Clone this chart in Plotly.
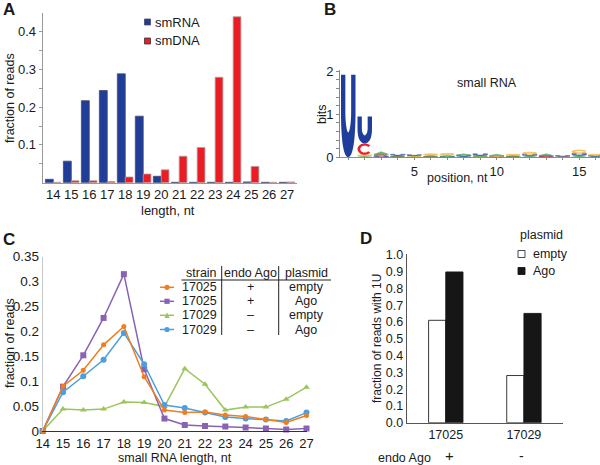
import math
import plotly.graph_objects as go

# ---------------- DATA ----------------
# Panel A
lengths_a = list(range(14, 28))
smRNA = [0.009, 0.057, 0.217, 0.244, 0.288, 0.176, 0.017, 0.001, 0.001, 0.001, 0.001, 0.002, 0.001, 0.001]
smDNA = [0.001, 0.005, 0.005, 0.003, 0.015, 0.023, 0.034, 0.070, 0.093, 0.279, 0.439, 0.043, 0.001, 0.002]

# Panel B: sequence logo, stacks bottom -> top (letter, bits)
logo_positions = list(range(1, 17))
logo_stacks = [
    [("U", 1.92)],
    [("A", 0.03), ("G", 0.03), ("C", 0.26), ("U", 0.63)],
    [("U", 0.03), ("C", 0.04), ("A", 0.06)],
    [("C", 0.02), ("A", 0.02), ("U", 0.03)],
    [("A", 0.02), ("G", 0.02), ("U", 0.02)],
    [("C", 0.02), ("A", 0.03), ("G", 0.03)],
    [("U", 0.02), ("A", 0.03), ("G", 0.04)],
    [("A", 0.02), ("U", 0.03), ("A", 0.03)],
    [("G", 0.02), ("A", 0.02), ("U", 0.04)],
    [("U", 0.02), ("G", 0.02), ("A", 0.03)],
    [("C", 0.02), ("A", 0.02), ("G", 0.03)],
    [("A", 0.03), ("U", 0.04), ("G", 0.05)],
    [("U", 0.02), ("C", 0.02), ("A", 0.04)],
    [("G", 0.02), ("U", 0.02)],
    [("A", 0.04), ("U", 0.05), ("G", 0.08)],
    [("A", 0.02), ("U", 0.02), ("G", 0.03)],
]

# Panel C
lengths_c = list(range(14, 28))
c_17025_empty = [0, 0.090, 0.122, 0.173, 0.210, 0.109, 0.042, 0.037, 0.038, 0.032, 0.029, 0.023, 0.017, 0.031]
c_17025_ago = [0, 0.089, 0.152, 0.227, 0.315, 0.124, 0.025, 0.012, 0.010, 0.009, 0.007, 0.005, 0.003, 0.005]
c_17029_empty = [0, 0.044, 0.042, 0.044, 0.058, 0.057, 0.049, 0.125, 0.094, 0.042, 0.048, 0.048, 0.064, 0.088]
c_17029_ago = [0, 0.078, 0.110, 0.143, 0.197, 0.134, 0.052, 0.046, 0.037, 0.028, 0.025, 0.023, 0.020, 0.037]
table_strain = ["17025", "17025", "17029", "17029"]
table_endo = ["+", "+", "\u2013", "\u2013"]
table_plasmid = ["empty", "Ago", "empty", "Ago"]

# Panel D
strains_d = ["17025", "17029"]
endo_d = ["+", "-"]
frac1U_empty = [0.61, 0.281]
frac1U_ago = [0.898, 0.651]

# ---------------- STYLE ----------------
FONT = "Liberation Sans, Arial, sans-serif"
W, H = 600, 465
def PX(x):
    return x / W
def PY(y):
    return 1 - y / H

LOGO_COL = {"U": "#1f3d9a", "C": "#e8202a", "G": "#f2a51c", "A": "#2f9e4a"}
C_COL = ["#f07d1e", "#8a62b3", "#9cc55c", "#4a9fe0"]
C_SYM = ["circle", "square", "triangle-up", "circle"]
C_SIZE = [5, 6, 6, 6]

fig = go.Figure()

# ---------------- PANEL A ----------------
fig.add_trace(go.Bar(x=lengths_a, y=smRNA, xaxis="x", yaxis="y", width=0.44, offset=-0.44,
                     marker=dict(color="#1f3d99", line=dict(color="#4a4a66", width=0.8)),
                     showlegend=False))
fig.add_trace(go.Bar(x=lengths_a, y=smDNA, xaxis="x", yaxis="y", width=0.43, offset=0.0,
                     marker=dict(color="#ec1c24", line=dict(color="#a8a0a0", width=0.8)),
                     showlegend=False))

# ---------------- PANEL B (logo) ----------------
shapes = []

def glyph_U(xc, y0, y1, w=0.88):
    xl, xr = xc - w / 2, xc + w / 2
    h = y1 - y0
    t = w * 0.3
    ym = y0 + 0.55 * h
    yb = y0 + 0.3 * h
    return (f"M {xl},{y1} L {xl},{ym} "
            f"C {xl},{y0 + 0.18*h} {xc - 0.3*w},{y0} {xc},{y0} "
            f"C {xc + 0.3*w},{y0} {xr},{y0 + 0.18*h} {xr},{ym} "
            f"L {xr},{y1} L {xr - t},{y1} L {xr - t},{ym} "
            f"C {xr - t},{yb + 0.1*h} {xc + 0.08*w},{yb} {xc},{yb} "
            f"C {xc - 0.08*w},{yb} {xl + t},{yb + 0.1*h} {xl + t},{ym} "
            f"L {xl + t},{y1} Z")

def glyph_ring(xc, y0, y1, w=0.88, a0=40, a1=320):
    a, b = w / 2, (y1 - y0) / 2
    yc = (y0 + y1) / 2
    k = 0.62
    n = 24
    pts = []
    for i in range(n + 1):
        ang = math.radians(a0 + (a1 - a0) * i / n)
        pts.append((xc + a * math.cos(ang), yc + b * math.sin(ang)))
    for i in range(n, -1, -1):
        ang = math.radians(a0 + (a1 - a0) * i / n)
        pts.append((xc + a * k * math.cos(ang), yc + b * k * math.sin(ang)))
    return "M " + " L ".join(f"{x},{y}" for x, y in pts) + " Z"

def glyph_A(xc, y0, y1, w=0.88):
    xl, xr = xc - w / 2, xc + w / 2
    return f"M {xl},{y0} L {xc},{y1} L {xr},{y0} Z"

for pos, stack in zip(logo_positions, logo_stacks):
    base = 0.0
    for letter, hgt in stack:
        y0, y1 = base, base + hgt
        if letter == "U":
            path = glyph_U(pos, y0, y1)
        elif letter == "C":
            path = glyph_ring(pos, y0, y1)
        elif letter == "G":
            path = glyph_ring(pos, y0, y1, a0=20, a1=340)
        else:
            path = glyph_A(pos, y0, y1)
        small = hgt < 0.1
        shapes.append(dict(type="path", path=path, xref="x2", yref="y2",
                           fillcolor=LOGO_COL[letter],
                           line=dict(color=LOGO_COL[letter], width=0.6 if small else 0),
                           opacity=0.75 if small else 1.0, layer="above"))
        base = y1

fig.add_trace(go.Scatter(x=logo_positions, y=[sum(h for _, h in s) for s in logo_stacks],
                         xaxis="x2", yaxis="y2", mode="markers", marker=dict(size=1, opacity=0),
                         hoverinfo="skip", showlegend=False))

# ---------------- PANEL C ----------------
series_c = [c_17025_empty, c_17025_ago, c_17029_empty, c_17029_ago]
order = [2, 1, 3, 0]
for i in order:
    fig.add_trace(go.Scatter(x=lengths_c, y=series_c[i], xaxis="x3", yaxis="y3",
                             mode="lines+markers", cliponaxis=False,
                             line=dict(color=C_COL[i], width=1.5),
                             marker=dict(symbol=C_SYM[i], size=C_SIZE[i], color=C_COL[i]),
                             showlegend=False))

# ---------------- PANEL D ----------------
xd = [0, 1]
fig.add_trace(go.Bar(x=xd, y=frac1U_empty, xaxis="x4", yaxis="y4", width=0.22, offset=-0.22,
                     marker=dict(color="white", line=dict(color="#222", width=0.9)), showlegend=False))
fig.add_trace(go.Bar(x=xd, y=frac1U_ago, xaxis="x4", yaxis="y4", width=0.22, offset=0.0,
                     marker=dict(color="#161616", line=dict(color="#161616", width=0.9)), showlegend=False))

# ---------------- ANNOTATIONS ----------------
ann = []
def text(x, y, s, size=13, xanchor="center", yanchor="middle", bold=False, angle=0, color="#1a1a1a"):
    ann.append(dict(x=PX(x), y=PY(y), xref="paper", yref="paper", text=(f"<b>{s}</b>" if bold else s),
                    showarrow=False, xanchor=xanchor, yanchor=yanchor, textangle=angle,
                    font=dict(family=FONT, size=size, color=color)))

# panel letters
text(1, 9, "A", size=17, xanchor="left", bold=True)
text(322, 10, "B", size=17, xanchor="left", bold=True)
text(1, 239, "C", size=17, xanchor="left", bold=True)
text(358, 238, "D", size=17, xanchor="left", bold=True)

# panel A titles & legend
text(10, 98, "fraction of reads", size=12.5, angle=-90)
text(168, 210, "length, nt", size=13)
shapes.append(dict(type="rect", xref="paper", yref="paper", x0=PX(144.5), x1=PX(150.5), y0=PY(25), y1=PY(19),
                   fillcolor="#1f3d99", line=dict(color="#4a4a66", width=0.8)))
shapes.append(dict(type="rect", xref="paper", yref="paper", x0=PX(144.5), x1=PX(150.5), y0=PY(44), y1=PY(38),
                   fillcolor="#ec1c24", line=dict(color="#333", width=0.8)))
text(153, 22, "smRNA", size=13, xanchor="left")
text(153, 41, "smDNA", size=13, xanchor="left")

# panel B titles
text(322, 115, "bits", size=12.5, angle=-90)
text(487, 83, "small RNA", size=12.5)
text(457, 178.5, "position, nt", size=12.5)

# panel C titles
text(10, 343, "fraction of reads", size=12.5, angle=-90)
text(175, 457.5, "small RNA length, nt", size=12.5)

# panel C legend table
hdr_y = 272.5
text(218.5, hdr_y, "strain", size=12.5, xanchor="right")
text(250, hdr_y, "endo Ago", size=12.5)
text(306, hdr_y, "plasmid", size=12.5)
shapes.append(dict(type="line", xref="paper", yref="paper", x0=PX(181.5), x1=PX(331), y0=PY(280), y1=PY(280),
                   line=dict(color="#222", width=1)))
for vx in (221.7, 278.7):
    shapes.append(dict(type="line", xref="paper", yref="paper", x0=PX(vx), x1=PX(vx), y0=PY(266), y1=PY(335),
                       line=dict(color="#222", width=1)))
row_y = [287.3, 301.3, 315.3, 329.5]
for i in range(4):
    yy = row_y[i]
    text(218.5, yy, table_strain[i], size=12.5, xanchor="right")
    text(250, yy, table_endo[i], size=12.5)
    text(306, yy, table_plasmid[i], size=12.5)
    shapes.append(dict(type="line", xref="paper", yref="paper", x0=PX(160), x1=PX(174), y0=PY(yy), y1=PY(yy),
                       line=dict(color=C_COL[i], width=1.5)))
    cx, r = 167, 2.6
    if C_SYM[i] == "circle":
        shapes.append(dict(type="circle", xref="paper", yref="paper", x0=PX(cx - r), x1=PX(cx + r),
                           y0=PY(yy + r), y1=PY(yy - r), fillcolor=C_COL[i], line=dict(width=0)))
    elif C_SYM[i] == "square":
        shapes.append(dict(type="rect", xref="paper", yref="paper", x0=PX(cx - r), x1=PX(cx + r),
                           y0=PY(yy + r), y1=PY(yy - r), fillcolor=C_COL[i], line=dict(width=0)))
    else:
        shapes.append(dict(type="path", xref="paper", yref="paper",
                           path=f"M {PX(cx - r)},{PY(yy + r)} L {PX(cx + r)},{PY(yy + r)} L {PX(cx)},{PY(yy - r - 0.5)} Z",
                           fillcolor=C_COL[i], line=dict(width=0)))

# panel D titles & legend
text(377, 339, "fraction of reads with 1U", size=12, angle=-90)
text(404, 458, "endo Ago", size=12.5)
text(449, 455, endo_d[0], size=15)
text(521.5, 456, endo_d[1], size=14)
text(541, 235, "plasmid", size=12.5)
shapes.append(dict(type="rect", xref="paper", yref="paper", x0=PX(518), x1=PX(525), y0=PY(257.5), y1=PY(250.5),
                   fillcolor="white", line=dict(color="#333", width=0.9)))
shapes.append(dict(type="rect", xref="paper", yref="paper", x0=PX(518), x1=PX(525), y0=PY(274.5), y1=PY(267.5),
                   fillcolor="#161616", line=dict(color="#161616", width=0.9)))
text(530.5, 254, "empty", size=12.5, xanchor="left")
text(530.5, 271, "Ago", size=12.5, xanchor="left")

# ---------------- AXES ----------------
tickfont = dict(family=FONT, size=13, color="#1a1a1a")
a_yvals = [0.05, 0.1, 0.15, 0.2, 0.25, 0.3, 0.35, 0.4, 0.45]
a_ytext = ["", "0.1", "", "0.2", "", "0.3", "", "0.4", ""]
b_yvals = [0, 0.2, 0.4, 0.6, 0.8, 1.0, 1.2, 1.4, 1.6, 1.8, 2.0]
b_ytext = ["0", "", "", "", "", "1", "", "", "", "", "2"]
b_xtext = [str(p) if p % 5 == 0 else "" for p in logo_positions]
c_yvals = [0, 0.05, 0.1, 0.15, 0.2, 0.25, 0.3, 0.35]
c_ytext = ["0", "0.05", "0.1", "0.15", "0.2", "0.25", "0.3", "0.35"]
d_yvals = [0, 0.1, 0.2, 0.3, 0.4, 0.5, 0.6, 0.7, 0.8, 0.9, 1.0]
d_ytext = [f"{v:.1f}" for v in d_yvals]

common = dict(showgrid=False, zeroline=False, automargin=False, fixedrange=True)

fig.update_layout(
    width=W, height=H, autosize=False,
    margin=dict(l=0, r=0, t=0, b=0, pad=0, autoexpand=False),
    paper_bgcolor="white", plot_bgcolor="rgba(0,0,0,0)",
    barmode="overlay", showlegend=False,
    font=dict(family=FONT, size=13, color="#1a1a1a"),
    xaxis=dict(domain=[PX(42.7), PX(297)], anchor="y", range=[13.41, 27.55],
               tickvals=lengths_a, ticktext=[str(v) for v in lengths_a], ticks="",
               showline=True, linecolor="#999", linewidth=1, tickfont=tickfont, **common),
    yaxis=dict(domain=[PY(182.7), PY(13)], anchor="x", range=[0, 0.449],
               tickvals=a_yvals, ticktext=a_ytext, ticks="outside", ticklen=3, tickcolor="#999",
               showline=True, linecolor="#999", linewidth=1, tickfont=tickfont, **common),
    xaxis2=dict(domain=[PX(340), 1.0], anchor="y2", range=[0.5, 16.26],
                tickvals=logo_positions, ticktext=b_xtext, ticks="outside", ticklen=2, tickcolor="#888",
                showline=True, linecolor="#8890a0", linewidth=1, tickfont=tickfont, **common),
    yaxis2=dict(domain=[PY(157.3), PY(69.5)], anchor="x2", range=[0, 2.04],
                tickvals=b_yvals, ticktext=b_ytext, ticks="outside", ticklen=3, tickcolor="#888",
                showline=True, linecolor="#888", linewidth=1, tickfont=tickfont, **common),
    xaxis3=dict(domain=[PX(42.7), PX(306.5)], anchor="y3", range=[14, 27],
                tickvals=lengths_c, ticktext=[str(v) for v in lengths_c], ticks="",
                showline=True, linecolor="#333", linewidth=1,
                tickfont=dict(family=FONT, size=13, color="#1a1a1a"), **common),
    yaxis3=dict(domain=[PY(431), PY(256.7)], anchor="x3", range=[0, 0.35],
                tickvals=c_yvals, ticktext=c_ytext, ticks="",
                showline=True, linecolor="#c8c8c8", linewidth=1,
                tickfont=dict(family=FONT, size=13.5, color="#1a1a1a"), **common),
    xaxis4=dict(domain=[PX(406.7), PX(563)], anchor="y4", range=[-0.5, 1.5],
                tickvals=xd, ticktext=strains_d, ticks="",
                showline=True, linecolor="#555", linewidth=1,
                tickfont=dict(family=FONT, size=12.5, color="#1a1a1a"), **common),
    yaxis4=dict(domain=[PY(422.7), PY(254)], anchor="x4", range=[0, 1.005],
                tickvals=d_yvals, ticktext=d_ytext, ticks="",
                showline=True, linecolor="#555", linewidth=1,
                tickfont=dict(family=FONT, size=12.5, color="#1a1a1a"), **common),
    shapes=shapes,
    annotations=ann,
)

fig.write_html("out.html", config={"displayModeBar": False},
               post_script="document.body.style.margin='0';document.body.style.overflow='hidden';")
